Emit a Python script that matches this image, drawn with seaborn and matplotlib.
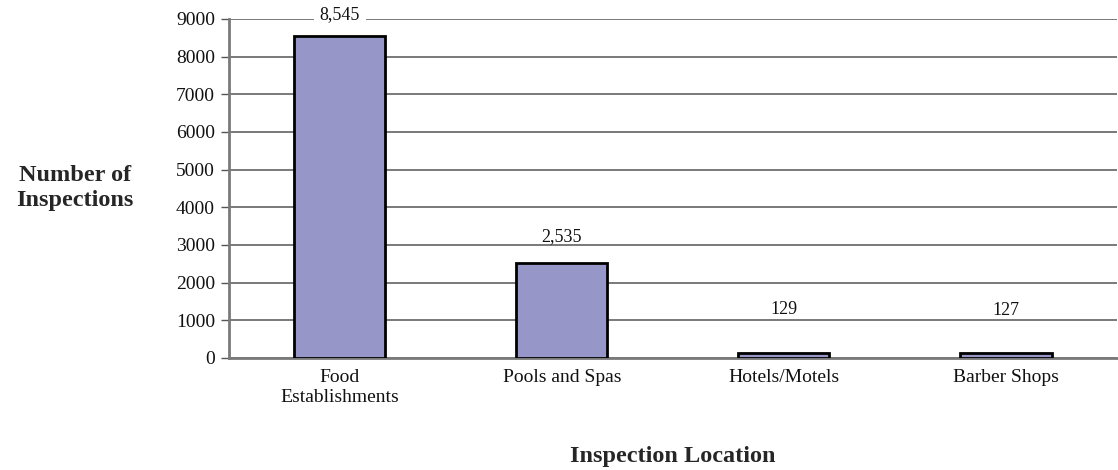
import matplotlib
matplotlib.use("Agg")
import matplotlib.pyplot as plt
import seaborn as sns
import pandas as pd

categories = ["Food\nEstablishments", "Pools and Spas", "Hotels/Motels", "Barber Shops"]
inspections = [8545, 2535, 129, 127]
yticks = [0, 1000, 2000, 3000, 4000, 5000, 6000, 7000, 8000, 9000]
label_offsets = [15.5, 19, 31.5, 30.5]  # points above bar top

sns.set_theme(style="white")
plt.rcParams["font.family"] = ["Liberation Serif", "DejaVu Serif"]

df = pd.DataFrame({"loc": categories, "n": inspections})

fig = plt.figure(figsize=(11.18, 4.70), dpi=100)
ax = fig.add_axes([0.2048, 0.2383, 0.7943, 0.7213])

sns.barplot(data=df, x="loc", y="n", color="#9696C8", width=0.41,
            edgecolor="black", linewidth=2, saturation=1, ax=ax, zorder=3)

ax.set_ylim(0, 9000)
ax.set_xlim(-0.5, 3.5)
ax.set_yticks(yticks)
ax.set_yticklabels([str(v) for v in yticks], fontsize=14, color="#111111")
ax.yaxis.grid(True, color="#555555", linewidth=1.1, zorder=0)
ax.set_axisbelow(True)

ax.set_xticks(range(len(categories)))
ax.set_xticklabels(categories, fontsize=14, linespacing=1.2, color="#111111")
ax.set_xticks([i - 0.5 for i in range(len(categories) + 1)], minor=True)
ax.tick_params(axis="x", which="major", length=0, pad=8)
ax.tick_params(axis="x", which="minor", length=6, width=1, color="#555555", direction="out")
ax.tick_params(axis="y", length=6, width=1, color="#555555", direction="out", pad=4, left=True)

for s in ["top", "right"]:
    ax.spines[s].set_visible(False)
for s in ["left", "bottom"]:
    ax.spines[s].set_color("#7a7a7a")
    ax.spines[s].set_linewidth(2)

for i, (v, off) in enumerate(zip(inspections, label_offsets)):
    txt = ax.annotate(f"{v:,}", xy=(i, v), xytext=(0, off), textcoords="offset points",
                      ha="center", va="center", fontsize=13, color="#111111", zorder=4)
    if i == 0:
        txt.set_bbox(dict(boxstyle="square,pad=0.3", facecolor="white", edgecolor="none"))

ax.set_xlabel("")
ax.set_ylabel("")
fig.text(0.067, 0.60, "Number of\nInspections", ha="center", va="center",
         fontsize=17.5, fontweight="bold", linespacing=1.25)
fig.text(0.602, 0.028, "Inspection Location", ha="center", va="center",
         fontsize=17.5, fontweight="bold")

fig.savefig("out.png", dpi=100)
